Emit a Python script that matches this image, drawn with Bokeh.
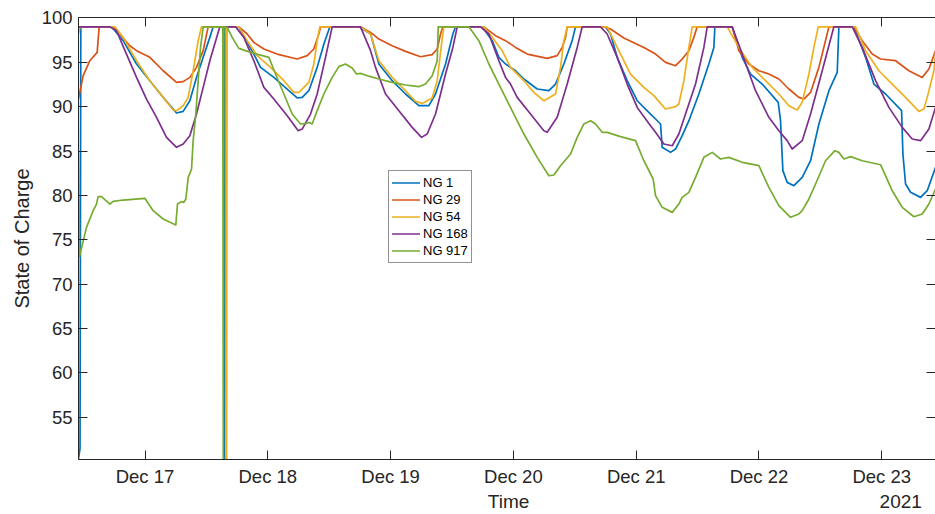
import pandas as pd
from bokeh.plotting import figure
from bokeh.models import (Range1d, FixedTicker, DatetimeTickFormatter, DatetimeAxis,
                          LinearAxis, Legend, LegendItem)
from bokeh.embed import file_html
from bokeh.resources import INLINE

# ---------------- data (hours since 2021-12-16 11:00, state of charge %) ----------------
start_time = "2021-12-16 11:00"

t_ng1 = [0, 0.3, 0.45, 6.45, 8.73, 11.34, 13.94, 16.55, 19.16, 20.46, 21.76, 23.06, 24.37, 25.67, 26.32,
         28.45, 28.55, 28.65,
         31.3, 32.97, 34.27, 35.58, 38.18, 40.79, 42.74, 43.72, 45.02, 46.65, 47.96, 49.13,
         54.8, 57.1, 58.71, 61.31, 63.92, 66.52, 68.48, 69.78, 71.74, 73.17, 73.69,
         78.9, 80.86, 82.16, 83.46, 85.42, 87.05, 89.65, 91.93, 93.24, 94.86, 96.49, 97.14,
         103.01, 103.99, 105.29, 107.24, 109.2, 111.8, 112.78, 113.76, 114.08, 115.71, 116.69, 117.99, 119.3,
         121.25, 123.2, 124.18, 124.38,
         127.76, 129.72, 131.35, 133.63, 136.76, 137.21, 137.67, 138.51, 139.82, 141.45, 143.08, 144.71,
         146.67, 148.29, 148.62,
         151.55, 153.83, 155.46, 157.74, 160.87, 161.13, 161.65, 162.63, 164.58, 165.88, 167.51]
soc_ng1 = [50.3, 51.5, 99, 99, 97.44, 94.81, 92.93, 91.05, 89.29, 89.47, 90.67, 93.30, 95.56, 97.81, 99,
           99, 50.25, 99,
           99, 97.25, 95.93, 94.43, 93.30, 91.99, 90.98, 91.05, 91.80, 94.43, 97.06, 99,
           99, 98.2, 94.81, 92.93, 91.43, 90.11, 90.11, 91.43, 94.81, 98.19, 99,
           99, 97.44, 95.56, 94.81, 94.05, 93.12, 91.99, 91.80, 92.55, 94.81, 97.44, 99,
           99, 98.19, 95.56, 92.93, 90.67, 89.17, 88.61, 88.05, 85.42, 84.85, 85.23, 86.73, 88.42,
           91.43, 94.81, 96.68, 99,
           99, 95.56, 93.68, 92.55, 90.49, 88.42, 82.79, 81.47, 81.10, 82.04, 83.91, 88.05,
           91.80, 93.87, 99,
           99, 95.56, 92.55, 91.43, 89.55, 84.67, 81.29, 80.35, 79.78, 80.53, 83.16]

t_ng29 = [0, 0.91, 2.22, 3.65, 4.04, 6.78, 8.08, 10.03, 11.34, 13.94, 16.55, 19.16, 20.46, 21.76, 23.06, 24.37, 25.34,
          31.34, 32.97, 34.27, 36.23, 38.83, 42.74, 44.69, 46.0, 46.97, 47.31,
          55.12, 57.08, 58.71, 61.31, 63.92, 66.85, 69.13, 70.11, 70.76, 71.21,
          79.23, 81.51, 83.46, 85.42, 87.7, 91.61, 93.56, 94.54, 95.19, 95.52,
          102.68, 103.99, 106.59, 110.5, 112.78, 114.73, 116.69, 117.99, 119.3, 120.27, 120.92,
          127.76, 129.07, 131.02, 132.98, 134.93, 136.89, 138.84, 140.79, 141.78, 143.08, 144.71, 146.67,
          151.55, 153.18, 155.13, 156.76, 159.7, 162.3, 164.91, 166.21, 167.51]
soc_ng29 = [90.9, 93.49, 95.18, 96.12, 99, 99, 98.19, 96.87, 96.31, 95.56, 94.05, 92.74, 92.82, 93.30, 94.43, 96.31, 99,
            99, 98.19, 97.25, 96.50, 95.93, 95.37, 95.75, 96.50, 98.19, 99,
            99, 98.37, 97.62, 96.87, 96.23, 95.63, 95.86, 96.50, 98.19, 99,
            99, 98.0, 97.44, 96.68, 95.93, 95.44, 95.75, 96.68, 97.81, 99,
            99, 98.75, 97.74, 96.68, 95.93, 94.99, 94.62, 95.37, 96.31, 97.81, 99,
            99, 96.31, 94.81, 94.05, 93.68, 93.12, 91.99, 91.05, 90.86, 91.61, 94.43, 99,
            99, 97.44, 95.93, 95.37, 95.18, 94.05, 93.30, 94.24, 96.31]

t_ng54 = [0, 0.3, 7.1, 8.73, 11.34, 13.94, 16.55, 18.5, 19.16, 20.46, 21.44, 22.41, 23.39, 24.04,
          28.85, 28.95, 29.05,
          31.34, 32.97, 34.92, 37.53, 40.14, 42.09, 43.07, 45.02, 46.0, 46.65, 47.17,
          55.12, 57.08, 58.71, 61.31, 63.92, 65.87, 67.18, 69.13, 70.11, 70.95, 71.41,
          79.23, 80.86, 82.81, 84.44, 87.05, 89.0, 90.96, 93.24, 94.21, 94.86, 95.52,
          103.33, 105.29, 107.89, 110.5, 112.45, 114.73, 116.69, 117.34, 118.32, 119.3, 119.95,
          126.79, 129.07, 131.67, 134.28, 136.89, 138.84, 140.47, 141.45, 142.76, 143.73, 144.58,
          151.88, 153.83, 156.44, 159.04, 161.65, 164.26, 165.23, 165.88, 167.19, 167.51]
soc_ng54 = [98.2, 99, 99, 97.81, 95.18, 92.93, 91.05, 89.62, 89.55, 90.11, 91.05, 94.05, 97.44, 99,
            99, 50.25, 99,
            99, 97.44, 95.75, 94.43, 92.93, 91.61, 91.61, 92.74, 94.81, 97.44, 99,
            99, 98.19, 95.18, 93.30, 91.80, 90.60, 90.37, 90.98, 92.93, 97.06, 99,
            99, 97.81, 96.31, 94.43, 92.93, 91.61, 90.67, 91.43, 94.43, 97.44, 99,
            99, 96.68, 93.68, 92.18, 91.24, 89.74, 90.00, 90.30, 92.93, 96.68, 99,
            99, 96.68, 94.43, 92.93, 91.43, 90.11, 89.62, 90.49, 93.68, 96.68, 99,
            99, 96.31, 94.05, 92.55, 91.05, 89.47, 89.74, 91.05, 94.05, 96.0]

t_ng168 = [0, 6.13, 7.43, 9.38, 11.34, 13.29, 15.25, 17.2, 19.16, 20.46, 21.76, 23.06, 24.37, 25.67, 27.62,
           30.69, 32.32, 34.27, 36.23, 38.18, 40.79, 42.94, 43.72, 45.35, 46.65, 48.28, 49.58,
           55.12, 57.08, 58.05, 60.01, 62.62, 65.22, 67.05, 68.15, 69.78, 71.74, 73.17, 74.02,
           78.58, 80.21, 82.16, 83.46, 84.44, 85.74, 88.35, 90.96, 91.61, 93.56, 95.52, 97.47, 98.45,
           102.03, 103.33, 105.29, 107.24, 109.2, 111.8, 112.78, 114.41, 116.04, 117.34, 118.64, 120.6, 122.23, 122.88,
           127.76, 129.72, 132.33, 134.93, 136.89, 138.51, 139.49, 141.45, 143.08, 145.36, 147.64,
           151.23, 153.18, 155.79, 158.39, 161.0, 162.95, 164.58, 166.21, 167.51]
soc_ng168 = [99, 99, 98.56, 95.93, 93.30, 90.86, 88.80, 86.54, 85.42, 85.79, 86.73, 89.17, 92.18, 95.18, 99,
             99, 97.81, 95.18, 92.18, 90.86, 88.98, 87.29, 87.48, 89.17, 91.43, 95.56, 99,
             99, 96.31, 94.43, 91.43, 89.55, 87.67, 86.54, 86.92, 89.17, 93.68, 96.68, 99,
             99, 98.19, 95.18, 93.30, 92.55, 91.05, 89.17, 87.29, 87.11, 88.80, 92.55, 96.68, 99,
             99, 98.19, 95.56, 92.55, 89.92, 87.86, 87.11, 85.79, 85.60, 86.92, 89.17, 92.55, 96.68, 99,
             99, 95.93, 91.80, 88.80, 87.29, 86.17, 85.23, 86.17, 89.17, 94.05, 99,
             99, 96.68, 92.93, 89.92, 87.67, 86.36, 86.17, 87.48, 89.92]

t_ng917 = [0, 0.2, 1.56, 2.87, 3.52, 3.84, 4.5, 6.13, 6.78, 8.73, 12.97, 14.59, 16.55, 19.02, 19.35, 20.13,
           20.59, 20.98, 21.44, 22.09, 22.41, 22.93, 23.39, 23.85, 24.37,
           28.2, 28.3, 28.4,
           29.06, 30.04, 31.34, 33.62, 37.21, 38.51, 40.14, 41.77, 43.39, 44.69, 45.02, 45.67, 46.65, 47.96,
           49.58, 50.89, 52.19, 53.49, 54.34, 55.12, 57.08,
           58.71, 61.31, 63.92, 66.52, 67.83, 69.13, 70.11, 70.3, 76.3, 78.25, 80.21, 82.16, 84.11,
           87.05, 89.65, 91.93, 92.91, 94.21, 96.17, 97.47, 98.77, 100.08, 101.05, 102.36, 103.33, 105.94,
           108.87, 110.5, 112.32, 112.78,
           114.08, 116.04, 117.34, 117.99, 119.3, 120.6, 122.23, 123.86, 125.48, 127.11, 129.72, 132.98,
           134.93, 136.89, 139.17, 140.79,
           141.45, 142.76, 144.06, 146.01, 147.84, 148.62, 149.6, 150.9, 153.18, 156.76, 159.04, 161.0,
           163.28, 164.91, 166.21, 167.51]
soc_ng917 = [85.0, 73.1, 76.40, 78.28, 79.03, 79.86, 79.86, 79.03, 79.33, 79.48, 79.67, 78.28, 77.34, 76.67, 79.03, 79.30,
             79.22, 79.60, 82.04, 82.97, 86.17, 89.17, 92.93, 96.68, 99,
             99, 50.25, 99,
             98.94, 97.81, 96.57, 96.12, 95.56, 93.68, 91.43, 89.17, 88.05, 88.12, 88.23, 88.05, 89.55, 91.43,
             93.30, 94.51, 94.81, 94.36, 93.68, 93.75, 93.38,
             93.12, 92.74, 92.44, 92.25, 92.55, 93.49, 95.18, 99, 99, 97.44, 94.81, 92.55, 90.30,
             86.92, 84.29, 82.22, 82.30, 83.35, 84.67, 86.54, 88.05, 88.42, 88.05, 87.11, 87.11, 86.62,
             86.17, 83.91, 81.85, 79.97,
             78.66, 78.09, 79.03, 79.78, 80.35, 82.04, 84.29, 84.85, 84.10, 84.29, 83.73, 83.35,
             80.91, 78.84, 77.53, 77.91,
             78.28, 79.60, 81.29, 83.91, 85.04, 84.85, 84.10, 84.37, 83.91, 83.46, 80.53, 78.66,
             77.60, 77.91, 79.03, 80.72]

series_names = ["NG 1", "NG 29", "NG 54", "NG 168", "NG 917"]
series_colors = ["#0072BD", "#D95319", "#EDB120", "#7E2F8E", "#77AC30"]
series_t = [t_ng1, t_ng29, t_ng54, t_ng168, t_ng917]
series_soc = [soc_ng1, soc_ng29, soc_ng54, soc_ng168, soc_ng917]

day_ticks = ["2021-12-17", "2021-12-18", "2021-12-19", "2021-12-20", "2021-12-21", "2021-12-22", "2021-12-23"]
y_ticks = [55, 60, 65, 70, 75, 80, 85, 90, 95, 100]
y_limits = (50.24, 100.05)
x_limits_hours = (0, 167.5)
x_title = "Time"
y_title = "State of Charge"
year_text = "2021"

# ---------------- helpers ----------------
base = pd.Timestamp(start_time)


def to_dt(hours):
    return base + pd.to_timedelta(hours, unit="h")


def to_ms(hours):
    return int(to_dt(hours).value // 10**6)


tick_ms = [int(pd.Timestamp(d).value // 10**6) for d in day_ticks]

FONT = "Liberation Sans"
AX = "#262626"

p = figure(width=935, height=514, x_axis_type="datetime", output_backend="svg", toolbar_location=None,
           x_range=Range1d(to_dt(x_limits_hours[0]).to_pydatetime(), to_dt(x_limits_hours[1]).to_pydatetime()),
           y_range=Range1d(*y_limits),
           min_border_left=78, min_border_right=0, min_border_top=17, min_border_bottom=55)
p.outline_line_color = None
p.xgrid.visible = False
p.ygrid.visible = False
p.background_fill_color = "white"
p.border_fill_color = "white"

fmt = DatetimeTickFormatter(days="%b %d", months="%b %d", hours="%b %d", hourmin="%b %d",
                            minutes="%b %d", years="%b %d")

xa = p.xaxis[0]
xa.ticker = FixedTicker(ticks=tick_ms)
xa.formatter = fmt
ya = p.yaxis[0]
ya.ticker = FixedTicker(ticks=y_ticks)
ya.axis_label = y_title

for ax in (xa, ya):
    ax.axis_line_color = AX
    ax.axis_line_width = 1
    ax.major_tick_line_color = AX
    ax.major_tick_in = 9
    ax.major_tick_out = 0
    ax.minor_tick_line_color = None
    ax.major_label_text_font = FONT
    ax.major_label_text_font_size = "18.5px"
    ax.major_label_text_color = AX
    ax.axis_label_text_font = FONT
    ax.axis_label_text_font_size = "20px"
    ax.axis_label_text_font_style = "normal"
    ax.axis_label_text_color = AX
xa.major_label_standoff = 6
ya.major_label_standoff = 6
ya.axis_label_standoff = 6

# second row under the date labels: axis title "Time" (centred under the frame) and the year at the right
time_pos_h = 84.05
year_pos_h = 160.7
row2 = DatetimeAxis(ticker=FixedTicker(ticks=[to_ms(time_pos_h), to_ms(year_pos_h)]), formatter=fmt,
                    major_label_overrides={to_ms(time_pos_h): x_title, to_ms(year_pos_h): year_text},
                    axis_line_color=None, major_tick_line_color=None, minor_tick_line_color=None,
                    major_tick_in=0, major_tick_out=0, major_label_standoff=1,
                    major_label_text_font=FONT, major_label_text_font_size="19px",
                    major_label_text_color=AX)
p.add_layout(row2, "below")

top_axis = DatetimeAxis(ticker=FixedTicker(ticks=tick_ms), formatter=fmt,
                        major_label_overrides={m: "" for m in tick_ms},
                        major_label_text_font_size="0px", major_label_standoff=0,
                        axis_line_color=AX, major_tick_line_color=AX,
                        major_tick_in=9, major_tick_out=0, minor_tick_line_color=None)
p.add_layout(top_axis, "above")
right_axis = LinearAxis(ticker=FixedTicker(ticks=y_ticks),
                        major_label_overrides={v: "" for v in y_ticks},
                        major_label_text_font_size="0px", major_label_standoff=0,
                        axis_line_color=None, major_tick_line_color=AX,
                        major_tick_in=9, major_tick_out=0, minor_tick_line_color=None)
p.add_layout(right_axis, "right")

items = []
for name, col, tt, ss in zip(series_names, series_colors, series_t, series_soc):
    r = p.line(x=to_dt(pd.Series(tt, dtype=float)), y=ss, line_color=col, line_width=1.7,
               line_join="round", line_cap="round")
    items.append(LegendItem(label=name, renderers=[r]))

legend = Legend(items=items, location=(310, 196), orientation="vertical",
                border_line_color=AX, border_line_width=0.8, background_fill_color="white",
                background_fill_alpha=1, label_text_font=FONT, label_text_font_size="13px",
                label_text_color="black", glyph_width=28, glyph_height=17, label_height=17,
                label_standoff=3, spacing=0, padding=3, margin=0)
p.add_layout(legend)

open("out.html", "w").write(file_html(p, INLINE))
